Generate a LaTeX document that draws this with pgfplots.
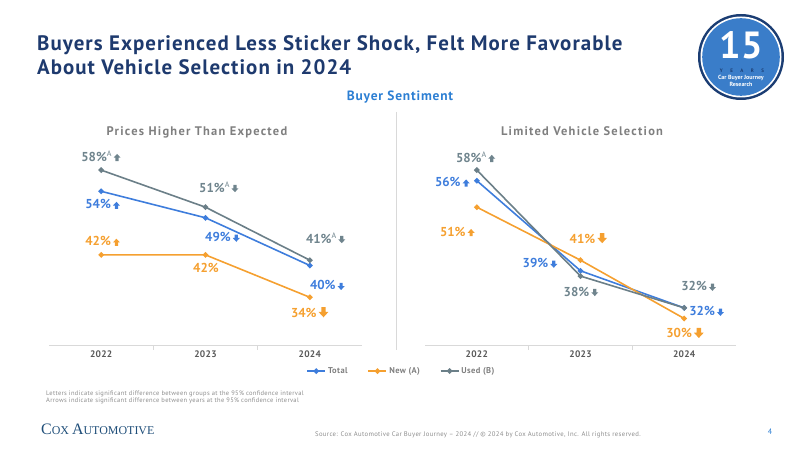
\documentclass[border=0pt]{standalone}
\usepackage{fontspec}
\setmainfont{PT Sans}
\newfontfamily\logofont{Liberation Serif}
\usepackage{pgfplots}
\pgfplotsset{compat=1.18}

\definecolor{totalblue}{HTML}{3E7DDC}
\definecolor{neworange}{HTML}{F5A030}
\definecolor{usedgray}{HTML}{6B7F88}
\definecolor{labelgray}{HTML}{6F848D}
\definecolor{navy}{HTML}{1E3A6E}
\definecolor{subblue}{HTML}{2D7FD3}
\definecolor{titlegray}{HTML}{7F7F7F}
\definecolor{tickgray}{HTML}{595959}
\definecolor{axisgray}{HTML}{D9D9D9}
\definecolor{notegray}{HTML}{8C8C8C}
\definecolor{logoblue}{HTML}{3A7DC9}
\definecolor{logonavy}{HTML}{1B3D73}
\definecolor{coxblue}{HTML}{1F4E79}

% significance markers: block arrows in the current text colour
\newcommand{\uparr}[1]{\hspace{2bp}\tikz[x=#1bp, y=#1bp, baseline=0pt]\fill (-0.8,0) -- (0.8,0) -- (0.8,1.7) -- (1.75,1.7) -- (0,3.6) -- (-1.75,1.7) -- (-0.8,1.7) -- cycle;}
\newcommand{\dnarr}[1]{\hspace{2bp}\tikz[x=#1bp, y=#1bp, baseline=0pt]\fill (-0.8,3.6) -- (0.8,3.6) -- (0.8,1.9) -- (1.75,1.9) -- (0,0) -- (-1.75,1.9) -- (-0.8,1.9) -- cycle;}
\newcommand{\up}{\uparr{2}}
\newcommand{\dn}{\dnarr{2}}
\newcommand{\Dn}{\dnarr{2.8}}
\newcommand{\supA}{{\mdseries\fontsize{8}{8}\selectfont\raisebox{4.5pt}{A}}}
\newcommand{\spaced}[1]{\addfontfeature{LetterSpace=#1}}

\tikzset{lbl/.style={anchor=base west, font=\bfseries\fontsize{13}{13}\selectfont, inner sep=0pt}}

\pgfplotsset{
  sentiment/.style={
    scale only axis, height=196.1bp,
    xmin=-0.5, xmax=2.5, ymin=25, ymax=62,
    axis y line=none, axis x line=bottom,
    x axis line style={-, draw=axisgray, line width=0.8pt},
    xtick={0,1,2}, xticklabels={2022,2023,2024},
    major tick length=0pt,
    minor xtick={0.5,1.5}, minor tick length=5bp, tick align=outside,
    minor x tick style={draw=axisgray, line width=0.8pt},
    xticklabel style={font=\bfseries\fontsize{9.5}{9.5}\selectfont\spaced{3}, text=tickgray, yshift=-2bp},
    clip=false,
    every axis plot/.append style={line width=1.6pt, mark=*, mark size=1.9pt},
  },
}

\begin{document}
\begin{tikzpicture}[x=1bp, y=1bp]
\path[use as bounding box] (0,0) rectangle (800,450);

% headline
\node[anchor=base west, inner sep=0pt, text=navy, font=\bfseries\fontsize{21}{21}\selectfont\spaced{5}] at (37,399) {Buyers Experienced Less Sticker Shock, Felt More Favorable};
\node[anchor=base west, inner sep=0pt, text=navy, font=\bfseries\fontsize{21}{21}\selectfont\spaced{5}] at (37,375) {About Vehicle Selection in 2024};
\node[anchor=base, inner sep=0pt, text=subblue, font=\bfseries\fontsize{13.5}{13.5}\selectfont\spaced{6}] at (400,349) {Buyer Sentiment};

% 15-years badge
\fill[logonavy] (741,393) circle (43);
\fill[white] (741,393) circle (40.5);
\fill[logoblue] (741,393) circle (38.8);
\node[text=white, font=\bfseries\fontsize{38}{38}\selectfont, inner sep=0pt, anchor=base] at (741,391) {15};
\node[text=logonavy, font=\bfseries\fontsize{5}{5}\selectfont\spaced{150}, inner sep=0pt, anchor=base] at (742,377.5) {YEARS};
\node[text=white, font=\bfseries\fontsize{6}{6}\selectfont, inner sep=0pt, anchor=base] at (741,370) {Car Buyer Journey};
\node[text=white, font=\bfseries\fontsize{6}{6}\selectfont, inner sep=0pt, anchor=base] at (741,363.5) {Research};

% divider between the two panels
\draw[axisgray, line width=0.8pt] (396,338) -- (396,100);

% chart titles
\node[anchor=base, inner sep=0pt, text=titlegray, font=\bfseries\fontsize{12.5}{12.5}\selectfont\spaced{10}] at (197,314) {Prices Higher Than Expected};
\node[anchor=base, inner sep=0pt, text=titlegray, font=\bfseries\fontsize{12.5}{12.5}\selectfont\spaced{10}] at (582,314) {Limited Vehicle Selection};

% ---- Prices Higher Than Expected ----
\begin{axis}[sentiment, at={(49bp,105bp)}, anchor=south west, width=313bp,
  legend columns=3,
  legend style={at={(rel axis cs:1.126,-0.133)}, anchor=center, draw=none, fill=none,
    font=\bfseries\fontsize{8.5}{8.5}\selectfont\spaced{5}, text=titlegray,
    /tikz/every even column/.append style={column sep=18bp}},
  legend image code/.code={\draw[mark repeat=2, mark phase=2, line width=1.6pt, mark size=1.9pt] plot coordinates {(0bp,0bp)(9bp,0bp)(18bp,0bp)};},
]
\addplot[totalblue] coordinates {(0,54) (1,49) (2,40)};
\addlegendentry{Total}
\addplot[neworange] coordinates {(0,42) (1,42) (2,34)};
\addlegendentry{New (A)}
\addplot[usedgray] coordinates {(0,58) (1,51) (2,41)};
\addlegendentry{Used (B)}

\node[lbl, text=labelgray] at ([xshift=-20bp, yshift=9bp]axis cs:0,58) {58\%\supA\up};
\node[lbl, text=totalblue] at ([xshift=-16bp, yshift=-17.7bp]axis cs:0,54) {54\%\up};
\node[lbl, text=neworange] at ([xshift=-16bp, yshift=9bp]axis cs:0,42) {42\%\up};
\node[lbl, text=labelgray] at ([xshift=-6.5bp, yshift=15bp]axis cs:1,51) {51\%\supA\dn};
\node[lbl, text=totalblue] at ([xshift=-0.5bp, yshift=-24bp]axis cs:1,49) {49\%\dn};
\node[lbl, text=neworange] at ([xshift=-12.5bp, yshift=-18bp]axis cs:1,42) {42\%};
\node[lbl, text=labelgray] at ([xshift=-4bp, yshift=17bp]axis cs:2,41) {41\%\supA\dn};
\node[lbl, text=totalblue] at ([xshift=0bp, yshift=-24.5bp]axis cs:2,40) {40\%\dn};
\node[lbl, text=neworange] at ([xshift=-19bp, yshift=-20bp]axis cs:2,34) {34\%\Dn};
\end{axis}

% ---- Limited Vehicle Selection ----
\begin{axis}[sentiment, at={(425bp,105bp)}, anchor=south west, width=311bp]
\addplot[totalblue] coordinates {(0,56) (1,39) (2,32)};
\addplot[neworange] coordinates {(0,51) (1,41) (2,30)};
\addplot[usedgray] coordinates {(0,58) (1,38) (2,32)};

\node[lbl, text=labelgray] at ([xshift=-21bp, yshift=8bp]axis cs:0,58) {58\%\supA\up};
\node[lbl, text=totalblue] at ([xshift=-42bp, yshift=-6bp]axis cs:0,56) {56\%\up};
\node[lbl, text=neworange] at ([xshift=-37bp, yshift=-29bp]axis cs:0,51) {51\%\up};
\node[lbl, text=neworange] at ([xshift=-11bp, yshift=17bp]axis cs:1,41) {41\%\Dn};
\node[lbl, text=totalblue] at ([xshift=-58bp, yshift=3bp]axis cs:1,39) {39\%\dn};
\node[lbl, text=labelgray] at ([xshift=-17bp, yshift=-20bp]axis cs:1,38) {38\%\dn};
\node[lbl, text=labelgray] at ([xshift=-3bp, yshift=17bp]axis cs:2,32) {32\%\dn};
\node[lbl, text=totalblue] at ([xshift=5bp, yshift=-8bp]axis cs:2,32) {32\%\dn};
\node[lbl, text=neworange] at ([xshift=-18bp, yshift=-19.5bp]axis cs:2,30) {30\%\Dn};
\end{axis}

% notes and footer
\node[anchor=base west, inner sep=0pt, text=notegray, font=\fontsize{6.5}{6.5}\selectfont\spaced{5}] at (46,54) {Letters indicate significant difference between groups at the 95\% confidence interval};
\node[anchor=base west, inner sep=0pt, text=notegray, font=\fontsize{6.5}{6.5}\selectfont\spaced{5}] at (46,47) {Arrows indicate significant difference between years at the 95\% confidence interval};
\node[anchor=base west, inner sep=0pt, text=coxblue] at (41,15) {\logofont\fontsize{16}{16}\selectfont C\fontsize{12}{12}\selectfont OX \fontsize{16}{16}\selectfont A\fontsize{12}{12}\selectfont UTOMOTIVE};
\node[anchor=base west, inner sep=0pt, text=notegray, font=\fontsize{6.7}{6.7}\selectfont\spaced{5}] at (315,13.5) {Source: Cox Automotive Car Buyer Journey -- 2024 // © 2024 by Cox Automotive, Inc. All rights reserved.};
\node[anchor=base, inner sep=0pt, text=subblue, font=\fontsize{8}{8}\selectfont] at (770,15) {4};
\end{tikzpicture}
\end{document}
